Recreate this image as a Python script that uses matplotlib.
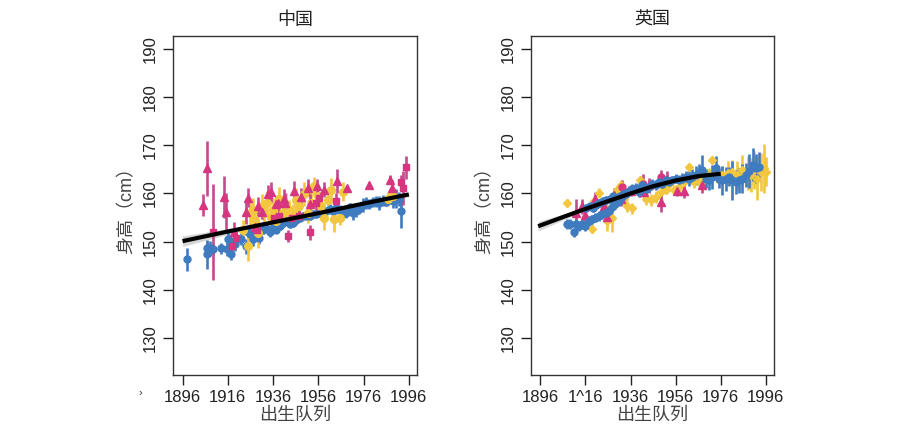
import matplotlib
matplotlib.use("Agg")
import matplotlib.pyplot as plt
import numpy as np

plt.rcParams['font.family'] = ['Liberation Sans', 'Noto Sans CJK SC', 'DejaVu Sans']

BLUE = "#3f7bbf"
YELLOW = "#f2c63f"
PINK = "#d8357f"
PINK_BAR = "#c44a8e"

# ---- 中国 ----
cn_blue_x = [1898, 1906.6, 1907, 1908, 1909.5, 1913, 1915.7, 1916, 1917, 1917.6, 1919, 1922, 1924,
             1925, 1926, 1927.2, 1928.6, 1930, 1931.6, 1933, 1934.5, 1936, 1937.5, 1939, 1940.4,
             1941.9, 1943.4, 1944.8, 1946.3, 1947.8, 1949.2, 1950.7, 1952.2, 1953.6, 1955, 1956.6,
             1958, 1959.5, 1961, 1962.5, 1964, 1965.4, 1966.9, 1968.4, 1969.8, 1971.3, 1972.8,
             1974.2, 1975.7, 1977.2, 1978.6, 1980.1, 1981.6, 1983, 1984.5, 1986, 1987.5, 1989,
             1990.4, 1991.6, 1992.6]
cn_blue_y = [146.3, 148.6, 147.4, 148.6, 148.5, 148.6, 148.5, 150.5, 150.1, 147.4, 149.5, 150.5, 149.0,
             151.9, 151.5, 150.5, 152.2, 150.8, 152.5, 152.9, 151.9, 152.9, 152.5, 153.3, 153.9,
             154.3, 153.6, 153.9, 154.5, 155.0, 155.3, 155.4, 155.3, 155.7, 155.7, 156.0,
             155.7, 156.4, 156.8, 156.4, 156.9, 156.6, 156.0, 156.0, 157.1, 156.0, 156.4,
             156.8, 157.6, 158.0, 157.8, 158.2, 158.3, 158.0, 158.5, 158.3, 158.8, 158.5,
             158.9, 158.8, 156.4]
cn_blue_e = [2.3, 1.5, 3.0, 1.5, 1.2, 1.2, 1.5, 1.5, 1.2, 1.2, 1.5, 1.2, 1.5,
             1.2, 1.2, 1.5, 1.0, 1.2, 1.0, 1.0, 1.0, 0.8, 0.8, 0.8, 0.8,
             0.8, 0.8, 0.8, 0.8, 0.8, 0.8, 0.8, 0.8, 0.8, 0.8, 0.8,
             0.8, 0.8, 1.0, 1.0, 1.2, 1.0, 1.5, 1.0, 1.0, 1.5, 1.2,
             1.0, 1.5, 1.2, 1.0, 1.0, 1.2, 1.5, 1.2, 1.0, 1.0, 1.5,
             2.0, 1.5, 3.5]

cn_yellow_x = [1922.8, 1925, 1925.8, 1927.3, 1928, 1929.5, 1931, 1932, 1933.4, 1935, 1935.8, 1937.3,
               1938.8, 1940.2, 1941.7, 1943.2, 1944.6, 1946.1, 1947.6, 1949.8, 1951.3, 1952.8,
               1954.3, 1955.7, 1957.2, 1958.7, 1960.2, 1961.6, 1963.1, 1965.4, 1966.8, 1986.6, 1988.8]
cn_yellow_y = [152.5, 149.0, 155.9, 156.6, 154.5, 151.7, 157.3, 155.9, 158.0, 155.2, 156.6, 154.2,
               158.8, 155.9, 157.7, 156.6, 155.9, 158.7, 157.3, 159.8, 155.9, 158.0,
               161.5, 159.4, 157.3, 154.9, 158.7, 160.8, 154.6, 154.9, 160.4, 158.8, 159.4]
cn_yellow_e = [2.0, 3.0, 2.5, 2.5, 2.0, 3.0, 2.5, 2.0, 2.5, 2.0, 2.5, 2.0,
               2.5, 2.0, 2.5, 2.0, 2.0, 2.5, 2.0, 2.5, 2.0, 2.5,
               2.0, 2.5, 2.0, 2.5, 2.5, 2.5, 2.5, 1.5, 2.0, 1.5, 1.5]

cn_tri_x = [1905, 1907, 1914.2, 1915, 1918.6, 1924, 1925, 1928, 1929.2, 1931, 1933.6, 1935, 1937.3,
            1938.2, 1940.8, 1941.3, 1945.4, 1948.3, 1951.5, 1952.4, 1955.4, 1958.6, 1964.2,
            1968.6, 1978.4, 1987.8, 1988.7]
cn_tri_y = [157.6, 165.2, 159.3, 156.2, 152.1, 156.2, 159.1, 153.1, 157.3, 156.2, 159.9, 160.3, 157.9,
            158.1, 158.9, 158.1, 160.6, 159.2, 161.2, 157.9, 161.5, 160.8, 162.5,
            161.2, 161.8, 162.9, 161.2]
cn_tri_e = [2.2, 5.8, 4.3, 4.0, 2.0, 2.5, 2.0, 1.5, 2.0, 1.5, 1.8, 2.0, 1.5,
            1.5, 2.0, 2.0, 2.0, 2.0, 1.8, 2.0, 1.5, 1.5, 2.5,
            0.5, 0.5, 1.0, 1.5]

cn_pink_x = [1909.5, 1918, 1919.5, 1928.9, 1936.4, 1938.6, 1942.6, 1944.5, 1947.4, 1952.2, 1954.8,
             1956.2, 1964, 1992.6, 1993.6, 1994.8]
cn_pink_y = [152.0, 149.1, 150.8, 152.5, 155.0, 155.3, 151.2, 155.0, 155.3, 151.9, 158.0,
             159.1, 158.5, 162.4, 161.2, 165.4]
cn_pink_e = [10.0, 1.5, 1.5, 1.5, 1.2, 1.2, 1.2, 1.5, 1.2, 1.5, 1.5,
             1.2, 1.5, 1.5, 3.5, 2.3]

cn_fit_x = [1896, 1916, 1936, 1956, 1976, 1996]
cn_fit_y = [150.1, 152.1, 154.0, 155.9, 157.9, 159.8]
cn_fit_ci = [1.1, 0.6, 0.3, 0.2, 0.3, 0.5]

# ---- 英国 ----
uk_blue_x = [1907.6, 1909, 1910.8, 1911.6, 1913, 1914.5, 1916, 1917.5, 1919, 1920.4, 1921.9, 1923.4,
             1924.9, 1926.4, 1927.9, 1929.3, 1930.8, 1932.3, 1933.8, 1935.3, 1936.7,
             1916.2, 1917.8, 1919.3, 1920.7, 1922.2, 1923.7, 1925.2, 1926.7, 1928.2, 1929.6,
             1931.1, 1932.6, 1934.1,
             1938.2, 1939.7, 1941.2, 1942.7, 1944.2, 1945.6, 1947.1, 1948.6, 1950.1, 1951.6,
             1953, 1954.5, 1956, 1957.5, 1959, 1960.4, 1961.9, 1963.4, 1964.9, 1966.4, 1967.9,
             1969.3, 1970.8, 1972.3, 1973.8, 1975.3, 1976.7, 1978.2, 1979.7, 1981.2, 1982.7,
             1984.1, 1985.6, 1987.1, 1988.6, 1990.1, 1991.6, 1993]
uk_blue_y = [153.6, 153.6, 151.9, 153.6, 153.3, 153.6, 153.3, 154.3, 154.6, 155.0, 155.3, 155.7,
             156.0, 156.4, 157.1, 157.8, 158.5, 159.2, 159.9, 160.6, 160.9,
             157.0, 157.3, 157.0, 157.7, 158.0, 158.4, 158.7, 158.9, 159.4, 159.1,
             159.4, 159.8, 160.1,
             161.1, 160.3, 161.7, 161.0, 161.3, 162.0, 161.7, 162.4, 162.0, 162.7,
             162.4, 162.7, 163.1, 162.7, 163.1, 163.5, 163.1, 163.5, 163.8, 164.2, 164.9,
             163.1, 162.7, 163.5, 165.2, 163.1, 162.7, 163.1, 163.5, 162.7, 162.4,
             162.7, 163.1, 163.8, 164.6, 166.0, 165.2, 165.6]
uk_blue_e = [1.0, 1.0, 1.0, 1.0, 1.0, 1.0, 1.0, 1.0, 1.0, 1.0, 1.0, 1.0,
             1.0, 1.0, 1.0, 1.0, 1.0, 1.0, 1.0, 1.0, 1.0,
             0.8, 0.8, 0.8, 0.8, 0.8, 0.8, 0.8, 0.8, 0.8, 0.8,
             0.8, 0.8, 0.8,
             1.0, 1.0, 1.0, 1.0, 1.0, 1.0, 1.0, 1.0, 1.0, 1.0,
             1.0, 1.0, 1.0, 1.2, 1.2, 1.2, 1.5, 1.5, 2.0, 2.0, 3.0,
             2.0, 2.0, 2.5, 2.5, 2.0, 3.0, 2.5, 2.0, 4.0, 2.5,
             2.5, 3.0, 2.5, 3.5, 3.5, 3.0, 3.0]

uk_yellow_x = [1907.9, 1919, 1919.7, 1921.9, 1924.1, 1925.6, 1927.9, 1930.1, 1931.6, 1933.1, 1934.6,
               1936.7, 1939, 1940.4, 1942.7, 1944.9, 1947.1, 1949.3, 1951.6, 1953, 1955.3,
               1957.5, 1959.7, 1961.9, 1964.1, 1966.4, 1968.6, 1970.8, 1972.3, 1974.5, 1976.7,
               1979, 1981.2, 1983.4, 1985.6, 1987.9, 1989.3, 1990.8, 1992.3, 1993.8, 1995.3, 1996]
uk_yellow_y = [158.0, 152.7, 158.4, 160.1, 157.3, 154.2, 154.9, 160.8, 161.7, 158.9, 157.3,
               156.9, 160.8, 162.7, 158.9, 158.6, 159.3, 160.4, 160.8, 161.9, 160.8,
               161.4, 162.4, 165.5, 162.4, 162.8, 163.1, 163.8, 166.9, 164.2, 163.8,
               164.2, 164.5, 163.8, 164.9, 164.2, 163.8, 164.9, 163.1, 164.5, 165.2, 164.5]
uk_yellow_e = [0.8, 1.0, 1.0, 1.0, 1.0, 2.0, 3.0, 1.0, 1.0, 1.2, 1.2,
               1.2, 1.0, 1.0, 1.2, 1.2, 1.2, 1.2, 1.0, 1.0, 1.0,
               1.0, 1.0, 0.8, 1.2, 1.2, 1.5, 1.5, 0.8, 2.0, 2.0,
               2.5, 2.5, 3.0, 3.0, 3.5, 3.5, 4.0, 4.5, 4.0, 5.0, 3.0]

uk_tri_x = [1911.6, 1914.5, 1916, 1920.4, 1924.1, 1925.6, 1928.6, 1931.6, 1936, 1940.4, 1941.9,
            1944.2, 1949.3, 1952.3, 1956.7, 1959.7, 1967.9]
uk_tri_y = [155.9, 157.3, 155.5, 158.9, 157.5, 155.1, 159.6, 158.9, 160.6, 161.0, 160.3,
            161.7, 158.2, 163.1, 160.6, 160.6, 161.7]
uk_tri_e = [3.0, 1.5, 1.5, 1.5, 1.5, 1.5, 1.5, 1.5, 1.2, 1.8, 1.8,
            1.5, 2.0, 1.5, 1.2, 1.5, 1.5]

uk_pink_x = [1932.3, 1941.5, 1949.3]
uk_pink_y = [161.4, 162.0, 163.4]
uk_pink_e = [1.5, 2.0, 1.5]

uk_fit_x = [1895, 1906, 1916, 1926, 1936, 1946, 1956, 1966, 1976]
uk_fit_y = [153.2, 155.1, 156.8, 158.4, 160.0, 161.5, 162.7, 163.6, 164.1]
uk_fit_ci = [1.0, 0.6, 0.4, 0.3, 0.3, 0.3, 0.3, 0.3, 0.4]

year_ticks = [1896, 1916, 1936, 1956, 1976, 1996]
height_ticks = [130, 140, 150, 160, 170, 180, 190]

fig = plt.figure(figsize=(9.17, 4.38), dpi=100)
ax1 = fig.add_axes([0.1887, 0.1438, 0.266, 0.774])
ax2 = fig.add_axes([0.579, 0.1438, 0.265, 0.774])


def draw_series(ax, x, y, e, color, bar_color, marker, ms):
    ax.errorbar(x, y, yerr=e, fmt=marker, color=color, ecolor=bar_color, elinewidth=1.9,
                markersize=ms, capsize=0, zorder=3)


def draw_panel(ax, title, series, fit_x, fit_y, fit_ci, xticklabels):
    fx = np.array(fit_x)
    fy = np.array(fit_y)
    ci = np.array(fit_ci)
    ax.fill_between(fx, fy - ci, fy + ci, color="#bbbbbb", alpha=0.6, lw=0, zorder=1)
    for s in series:
        draw_series(ax, *s)
    ax.plot(fx, fy, color="black", lw=3, zorder=4, solid_capstyle="butt")

    ax.set_xlim(1891.8, 1999.6)
    ax.set_ylim(122.3, 192.7)
    ax.set_xticks(year_ticks)
    ax.set_xticklabels(xticklabels)
    ax.set_yticks(height_ticks)
    ax.tick_params(axis="both", direction="out", length=7, width=1, labelsize=12,
                   colors="#222222", pad=4)
    for lab in ax.get_yticklabels():
        lab.set_rotation(90)
        lab.set_va("center")
    for sp in ax.spines.values():
        sp.set_linewidth(1)
        sp.set_color("#333333")
    ax.set_title(title, fontsize=13, pad=8, color="#222222")
    ax.set_xlabel("出生队列", fontsize=13, color="#444444", labelpad=1)
    ax.set_ylabel("身高（cm）", fontsize=13, color="#444444", labelpad=5)


draw_panel(ax1, "中国",
           [(cn_blue_x, cn_blue_y, cn_blue_e, BLUE, BLUE, "o", 5),
            (cn_yellow_x, cn_yellow_y, cn_yellow_e, YELLOW, YELLOW, "o", 5.5),
            (cn_pink_x, cn_pink_y, cn_pink_e, PINK, PINK_BAR, "s", 4.5),
            (cn_tri_x, cn_tri_y, cn_tri_e, PINK, PINK_BAR, "^", 6)],
           cn_fit_x, cn_fit_y, cn_fit_ci,
           [str(t) for t in year_ticks])

draw_panel(ax2, "英国",
           [(uk_yellow_x, uk_yellow_y, uk_yellow_e, YELLOW, YELLOW, "D", 4.5),
            (uk_tri_x, uk_tri_y, uk_tri_e, PINK, PINK_BAR, "^", 6),
            (uk_pink_x, uk_pink_y, uk_pink_e, PINK, PINK_BAR, "o", 5),
            (uk_blue_x, uk_blue_y, uk_blue_e, BLUE, BLUE, "o", 5)],
           uk_fit_x, uk_fit_y, uk_fit_ci,
           ["1896", "1^16", "1936", "1956", "1976", "1996"])

fig.text(0.153, 0.103, "›", fontsize=8, color="#333333", ha="center", va="center")

fig.savefig("out.png", dpi=100)
